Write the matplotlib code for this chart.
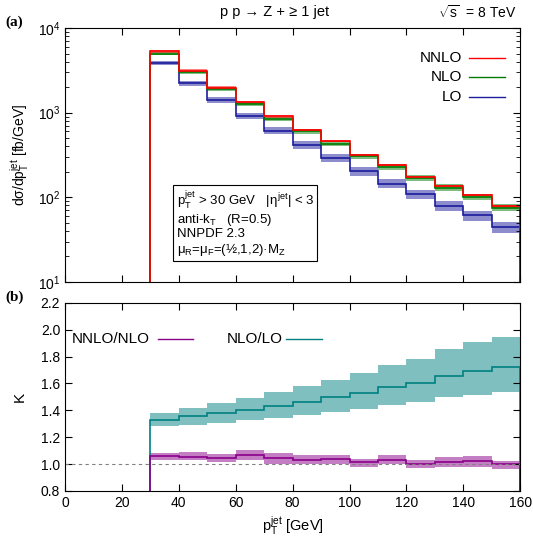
import matplotlib
matplotlib.use('Agg')
import matplotlib.pyplot as plt
from matplotlib.ticker import MultipleLocator, LogLocator, NullFormatter

plt.rcParams['font.family'] = ['Liberation Sans', 'DejaVu Sans']
plt.rcParams['mathtext.fontset'] = 'custom'
plt.rcParams['mathtext.rm'] = 'Liberation Sans'
plt.rcParams['mathtext.it'] = 'Liberation Sans'

# bin edges in pT (GeV)
edges = [30, 40, 50, 60, 70, 80, 90, 100, 110, 120, 130, 140, 150, 160]

# cross sections [fb/GeV]
nnlo = [5300, 3150, 1980, 1330, 905, 620, 458, 317, 240, 174, 136, 106, 78]
nlo = [5000, 3020, 1890, 1265, 850, 600, 430, 306, 229, 171, 130, 101, 75.5]
lo = [3850, 2240, 1410, 915, 615, 419, 292, 204, 145, 109, 79, 61, 44]
# scale-band half widths (relative)
nnlo_err = [0.04, 0.04, 0.035, 0.035, 0.035, 0.03, 0.03, 0.03, 0.03, 0.03, 0.03, 0.03, 0.03]
nlo_err = [0.03, 0.04, 0.05, 0.05, 0.06, 0.06, 0.07, 0.07, 0.08, 0.08, 0.09, 0.09, 0.10]
lo_err = [0.06, 0.07, 0.08, 0.09, 0.10, 0.10, 0.11, 0.12, 0.12, 0.13, 0.14, 0.14, 0.15]

# K factors
k_nlo_lo = [1.33, 1.354, 1.377, 1.40, 1.434, 1.462, 1.499, 1.529, 1.571, 1.604, 1.653, 1.69, 1.72]
k_nlo_lo_lo = [1.285, 1.29, 1.305, 1.325, 1.342, 1.362, 1.384, 1.41, 1.437, 1.459, 1.496, 1.516, 1.534]
k_nlo_lo_hi = [1.38, 1.42, 1.457, 1.494, 1.539, 1.58, 1.628, 1.678, 1.738, 1.783, 1.857, 1.912, 1.947]
k_nnlo_nlo = [1.057, 1.052, 1.045, 1.065, 1.047, 1.032, 1.037, 1.012, 1.03, 1.002, 1.015, 1.022, 1.0]
k_nnlo_nlo_lo = [1.032, 1.027, 1.012, 1.027, 1.002, 1.002, 1.002, 0.977, 1.002, 0.967, 0.977, 0.977, 0.962]
k_nnlo_nlo_hi = [1.082, 1.09, 1.075, 1.105, 1.082, 1.067, 1.07, 1.037, 1.067, 1.032, 1.055, 1.062, 1.025]

fig = plt.figure(figsize=(5.33, 5.40), dpi=100)
ax1 = fig.add_axes([0.122, 0.478, 0.854, 0.470])
ax2 = fig.add_axes([0.122, 0.091, 0.854, 0.348])


def band(ax, lo_vals, hi_vals, color):
    ax.stairs(hi_vals, edges, baseline=lo_vals, fill=True, color=color, alpha=0.5, lw=0)


# top panel
series = [(lo, lo_err, '#1c1c9c', 'LO'), (nlo, nlo_err, '#007a00', 'NLO'), (nnlo, nnlo_err, '#ff0000', 'NNLO')]
for vals, err, col, name in series:
    band(ax1, [v * (1 - e) for v, e in zip(vals, err)], [v * (1 + e) for v, e in zip(vals, err)], col)
for vals, err, col, name in series:
    ax1.stairs(vals, edges, baseline=1, color=col, lw=1.2)

ax1.set_yscale('log')
ax1.set_xlim(0, 160)
ax1.set_ylim(10, 1e4)
ax1.xaxis.set_major_locator(MultipleLocator(20))
ax1.xaxis.set_major_formatter(NullFormatter())
ax1.yaxis.set_minor_locator(LogLocator(base=10, subs=range(2, 10)))
ax1.yaxis.set_minor_formatter(NullFormatter())
ax1.tick_params(which='both', direction='in', top=True, right=True, labelsize=10)
ax1.tick_params(which='major', length=5)
ax1.tick_params(which='minor', length=3)
ax1.set_ylabel(r'd$\sigma$/dp$_\mathrm{T}^\mathrm{jet}$ [fb/GeV]', fontsize=10, labelpad=4)

# legend top
leg_y = [0.882, 0.806, 0.73]
for (vals, err, col, name), yy in zip(series[::-1], leg_y):
    ax1.text(0.873, yy, name, transform=ax1.transAxes, ha='right', va='center', fontsize=11)
    ax1.plot([0.888, 0.967], [yy, yy], transform=ax1.transAxes, color=col, lw=1)

ax1.text(0.245, 0.365,
         'p$_\\mathrm{T}^\\mathrm{jet}$ > 30 GeV   |$\\eta^\\mathrm{jet}$| < 3\n'
         'anti-k$_\\mathrm{T}$   (R=0.5)\n'
         'NNPDF 2.3\n'
         '$\\mu_\\mathrm{R}$=$\\mu_\\mathrm{F}$=(½,1,2)·M$_\\mathrm{Z}$',
         transform=ax1.transAxes, ha='left', va='top', fontsize=9.5, linespacing=1.05,
         bbox=dict(boxstyle='square,pad=0.25', fc='white', ec='black', lw=0.8))

fig.text(0.515, 0.977, 'p p → Z + ≥ 1 jet', ha='center', va='center', fontsize=10.5)
fig.text(0.97, 0.977, r'$\sqrt{\mathrm{s}}$  = 8 TeV', ha='right', va='center', fontsize=10)
fig.text(0.01, 0.958, '(a)', ha='left', va='center', fontsize=11,
         fontdict={'family': 'Liberation Serif', 'weight': 'bold'})
fig.text(0.01, 0.45, '(b)', ha='left', va='center', fontsize=11,
         fontdict={'family': 'Liberation Serif', 'weight': 'bold'})

# bottom panel
band(ax2, k_nlo_lo_lo, k_nlo_lo_hi, '#008080')
band(ax2, k_nnlo_nlo_lo, k_nnlo_nlo_hi, '#8b008b')
ax2.axhline(1.0, color='gray', lw=0.8, ls=(0, (3, 3)))
ax2.stairs(k_nlo_lo, edges, baseline=0, color='#008080', lw=1.2)
ax2.stairs(k_nnlo_nlo, edges, baseline=0, color='#8b008b', lw=1.2)

ax2.set_xlim(0, 160)
ax2.set_ylim(0.8, 2.2)
ax2.xaxis.set_major_locator(MultipleLocator(20))
ax2.yaxis.set_major_locator(MultipleLocator(0.2))
ax2.yaxis.set_major_formatter(plt.FormatStrFormatter('%.1f'))
ax2.tick_params(which='both', direction='in', top=True, right=True, labelsize=10, length=5)
ax2.set_ylabel('K', fontsize=11, labelpad=10)
ax2.set_xlabel(r'p$_\mathrm{T}^\mathrm{jet}$ [GeV]', fontsize=10.5)

ax2.text(0.187, 0.809, 'NNLO/NLO', transform=ax2.transAxes, ha='right', va='center', fontsize=11)
ax2.plot([0.204, 0.281], [0.809, 0.809], transform=ax2.transAxes, color='#8b008b', lw=1)
ax2.text(0.356, 0.809, 'NLO/LO', transform=ax2.transAxes, ha='left', va='center', fontsize=11)
ax2.plot([0.486, 0.565], [0.809, 0.809], transform=ax2.transAxes, color='#008080', lw=1)

fig.savefig('out.png', dpi=100)
